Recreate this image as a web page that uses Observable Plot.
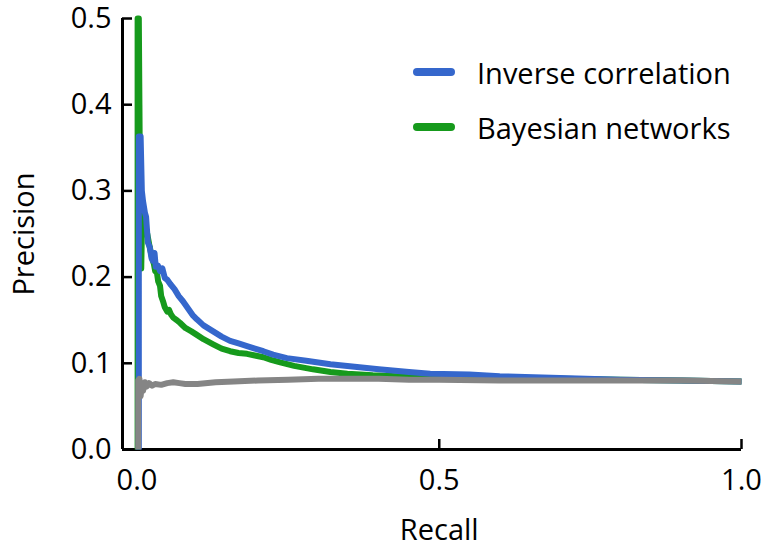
<!DOCTYPE html>
<html>
<head>
<meta charset="utf-8">
<script src="https://cdn.jsdelivr.net/npm/d3@7"></script>
<script src="https://cdn.jsdelivr.net/npm/@observablehq/plot@0.6"></script>
<style>
  body { margin: 0; background: #fff; }
  #wrap { position: relative; width: 765px; height: 556px; font-family: "Open Sans", sans-serif; }
  .leg { position: absolute; display: flex; align-items: center; font-size: 29px; color: #000; white-space: nowrap; }
  .sw { width: 42px; height: 8px; border-radius: 4px; margin-right: 22px; }
</style>
</head>
<body>
<div id="wrap"></div>
<script>
// ---- data ----
const seriesNames = ["Inverse correlation", "Bayesian networks", "Random"];
const seriesColors = ["#3567cc", "#169a1c", "#858585"];

const invRecall = [0.003,0.003,0.006,0.008,0.010,0.013,0.015,0.018,0.021,0.024,0.026,0.029,0.031,0.035,0.038,0.042,0.046,0.050,0.055,0.062,0.069,0.076,0.085,0.092,0.099,0.110,0.126,0.140,0.154,0.168,0.182,0.195,0.209,0.225,0.248,0.28,0.32,0.36,0.40,0.45,0.485,0.55,0.60,0.70,0.80,0.90,1.00];
const invPrecision = [0,0.363,0.363,0.300,0.288,0.275,0.270,0.240,0.235,0.222,0.219,0.228,0.212,0.213,0.207,0.210,0.199,0.197,0.192,0.186,0.178,0.172,0.163,0.156,0.151,0.144,0.137,0.131,0.126,0.123,0.120,0.117,0.114,0.110,0.106,0.103,0.099,0.096,0.093,0.090,0.088,0.087,0.085,0.083,0.081,0.080,0.079];

const bnRecall = [0.001,0.001,0.003,0.004,0.005,0.007,0.008,0.010,0.013,0.017,0.021,0.025,0.028,0.030,0.033,0.035,0.038,0.040,0.043,0.046,0.050,0.053,0.056,0.060,0.066,0.071,0.080,0.090,0.099,0.110,0.126,0.140,0.154,0.168,0.182,0.195,0.209,0.222,0.237,0.26,0.291,0.32,0.348,0.39,0.43,0.50,0.60,0.70,0.80,0.90,1.00];
const bnPrecision = [0,0.5,0.5,0.40,0.30,0.21,0.25,0.27,0.26,0.25,0.235,0.222,0.215,0.207,0.205,0.195,0.190,0.178,0.172,0.165,0.160,0.162,0.157,0.153,0.150,0.147,0.141,0.137,0.133,0.128,0.122,0.117,0.114,0.112,0.111,0.109,0.107,0.104,0.101,0.097,0.093,0.090,0.088,0.086,0.085,0.084,0.083,0.082,0.081,0.080,0.079];

const rndRecall = [0.002,0.002,0.004,0.006,0.008,0.010,0.013,0.016,0.020,0.025,0.030,0.040,0.050,0.060,0.070,0.080,0.100,0.130,0.160,0.200,0.250,0.300,0.350,0.400,0.450,0.500,0.600,0.700,0.800,0.900,1.000];
const rndPrecision = [0,0.080,0.082,0.062,0.075,0.068,0.078,0.073,0.077,0.074,0.076,0.075,0.077,0.078,0.077,0.076,0.076,0.078,0.079,0.080,0.081,0.082,0.082,0.082,0.081,0.081,0.080,0.080,0.080,0.080,0.079];

const xTicks = [0, 0.5, 1.0];
const yTicks = [0, 0.1, 0.2, 0.3, 0.4, 0.5];
const xDomain = [-0.024, 1.0];
const yDomain = [0, 0.5];
const xLabel = "Recall";
const yLabel = "Precision";

// ---- build ----
const toRows = (rs, ps, s) => rs.map((r, i) => ({recall: r, precision: ps[i], series: s}));
const rows = [
  ...toRows(bnRecall, bnPrecision, seriesNames[1]),
  ...toRows(invRecall, invPrecision, seriesNames[0]),
  ...toRows(rndRecall, rndPrecision, seriesNames[2])
];
const fmt = d3.format(".1f");

const chart = Plot.plot({
  width: 765,
  height: 556,
  marginLeft: 122,
  marginRight: 24,
  marginTop: 18,
  marginBottom: 107,
  style: { fontFamily: "Open Sans, sans-serif", fontSize: "29px", background: "#fff", color: "#000", overflow: "visible" },
  x: { domain: xDomain, ticks: xTicks, tickFormat: fmt },
  y: { domain: yDomain, ticks: yTicks, tickFormat: fmt },
  color: { domain: seriesNames, range: seriesColors },
  marks: [
    Plot.axisX({ ticks: xTicks, tickFormat: fmt, tickSize: -10, tickPadding: 30, label: null, strokeWidth: 2.5 }),
    Plot.axisY({ ticks: yTicks, tickFormat: fmt, tickSize: -10, tickPadding: 21, label: null, strokeWidth: 2.5 }),
    Plot.ruleX([xDomain[0]], { y1: yDomain[0], y2: yDomain[1], strokeWidth: 3 }),
    Plot.ruleY([yDomain[0]], { x1: xDomain[0], x2: xDomain[1], strokeWidth: 3 }),
    Plot.line(rows, { x: "recall", y: "precision", z: "series", stroke: "series", strokeWidth: 6, strokeLinejoin: "round", strokeLinecap: "butt" }),
    Plot.text([xLabel], { x: [0.5], frameAnchor: "bottom", dy: 90, fontSize: 29 }),
    Plot.text([yLabel], { y: [0.25], frameAnchor: "left", textAnchor: "middle", dx: -98, rotate: -90, fontSize: 29 })
  ]
});
const wrap = document.getElementById("wrap");
wrap.appendChild(chart);

// legend (inside plot, top right)
const legendTops = [52, 107];
[0, 1].forEach(i => {
  const d = document.createElement("div");
  d.className = "leg";
  d.style.left = "413px";
  d.style.top = legendTops[i] + "px";
  d.style.height = "40px";
  d.innerHTML = `<span class="sw" style="background:${seriesColors[i]}"></span><span>${seriesNames[i]}</span>`;
  wrap.appendChild(d);
});
</script>
</body>
</html>
